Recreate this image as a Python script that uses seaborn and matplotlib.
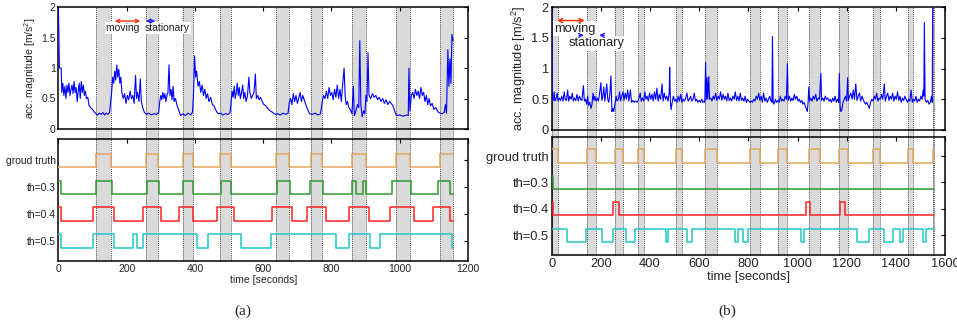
import matplotlib
matplotlib.use('Agg')
import matplotlib.pyplot as plt
import seaborn as sns

# ---------------- data ----------------
# (a) acceleration magnitude trace, time [s] / value [m/s^2]
acc_a_t = [0, 3, 8, 10, 13, 16, 19, 22, 25, 28, 31, 34, 37, 40, 43, 46, 49, 52, 55, 58,
           61, 64, 67, 70, 73, 76, 79, 82, 86, 90, 95, 100, 105, 110, 115, 120, 125, 130, 135, 140,
           145, 150, 153, 156, 159, 162, 165, 168, 171, 174, 177, 180, 183, 186, 190, 194, 198, 202, 206, 210,
           214, 218, 222, 226, 229, 232, 236, 240, 243, 247, 252, 258, 265, 272, 280, 288, 294, 297, 300, 303,
           306, 309, 312, 315, 318, 321, 324, 327, 330, 333, 336, 339, 343, 347, 352, 358, 365, 372, 380, 388,
           393, 396, 399, 402, 405, 409, 413, 417, 421, 425, 429, 433, 437, 441, 446, 451, 456, 462, 468, 475,
           482, 490, 497, 503, 506, 509, 512, 515, 518, 521, 524, 527, 530, 533, 536, 540, 543, 546, 550, 554,
           558, 561, 565, 569, 573, 577, 580, 584, 588, 592, 597, 602, 608, 614, 620, 628, 635, 642, 650, 658,
           666, 673, 676, 680, 684, 688, 692, 696, 700, 704, 708, 712, 716, 720, 725, 730, 736, 744, 752, 760,
           768, 773, 777, 781, 785, 789, 793, 797, 801, 805, 809, 813, 817, 821, 825, 829, 833, 837, 840, 843,
           847, 851, 855, 860, 864, 867, 872, 876, 880, 883, 886, 890, 894, 898, 901, 904, 907, 910, 915, 920,
           925, 930, 935, 940, 945, 950, 955, 960, 965, 970, 975, 980, 985, 990, 1000, 1010, 1020, 1025, 1027, 1030,
           1034, 1038, 1042, 1046, 1050, 1054, 1058, 1062, 1066, 1070, 1074, 1078, 1082, 1086, 1090, 1095, 1100, 1106, 1112, 1118,
           1124, 1130, 1134, 1137, 1141, 1144, 1147, 1150, 1153, 1156]
acc_a_v = [2.0, 1.0, 1.0, 0.6, 0.75, 0.55, 0.7, 0.5, 0.72, 0.6, 0.75, 0.55, 0.65, 0.72, 0.58, 0.78, 0.6, 0.68, 0.45, 0.62,
           0.75, 0.5, 0.78, 0.6, 0.72, 0.55, 0.62, 0.5, 0.52, 0.38, 0.35, 0.32, 0.28, 0.25, 0.23, 0.26, 0.24, 0.27, 0.23, 0.26,
           0.24, 0.27, 0.45, 0.6, 0.85, 0.75, 0.95, 0.8, 1.05, 0.85, 0.98, 0.75, 0.85, 0.6, 0.5, 0.58, 0.42, 0.55, 0.48, 0.62,
           0.5, 0.55, 0.42, 0.88, 0.5, 0.6, 0.45, 0.82, 0.45, 0.35, 0.27, 0.24, 0.26, 0.23, 0.25, 0.24, 0.28, 0.45, 0.55, 0.48,
           0.6, 0.5, 0.58, 0.45, 0.55, 0.6, 1.05, 0.55, 0.65, 0.48, 0.7, 0.45, 0.5, 0.4, 0.32, 0.22, 0.25, 0.22, 0.26, 0.23,
           0.28, 0.6, 1.2, 0.85, 0.95, 0.7, 0.78, 0.6, 0.72, 0.55, 0.65, 0.5, 0.58, 0.45, 0.52, 0.4, 0.38, 0.3, 0.25, 0.26,
           0.23, 0.25, 0.24, 0.27, 0.45, 0.62, 0.52, 0.7, 0.5, 0.6, 0.75, 0.55, 0.68, 0.5, 0.58, 0.72, 0.5, 0.6, 0.45, 0.55,
           0.85, 0.6, 0.5, 0.55, 0.6, 0.9, 0.5, 0.55, 0.48, 0.52, 0.45, 0.4, 0.38, 0.33, 0.3, 0.27, 0.24, 0.25, 0.23, 0.26,
           0.24, 0.26, 0.42, 0.5, 0.4, 0.58, 0.45, 0.55, 0.42, 0.5, 0.6, 0.45, 0.55, 0.48, 0.4, 0.32, 0.25, 0.24, 0.26, 0.23,
           0.25, 0.45, 0.55, 0.5, 0.62, 0.5, 0.68, 0.55, 0.6, 0.48, 0.65, 0.52, 0.72, 0.5, 0.65, 0.45, 0.75, 1.0, 0.55, 0.4,
           0.45, 0.35, 0.32, 0.25, 0.7, 0.22, 0.3, 0.4, 0.35, 1.45, 0.4, 0.2, 0.3, 0.25, 0.55, 0.45, 1.25, 0.55, 0.5, 0.58,
           0.52, 0.55, 0.48, 0.52, 0.45, 0.5, 0.42, 0.48, 0.4, 0.45, 0.42, 0.38, 0.3, 0.22, 0.23, 0.21, 0.23, 0.22, 1.0, 0.3,
           0.55, 0.6, 0.5, 0.65, 0.55, 0.62, 0.5, 0.68, 0.55, 0.6, 0.45, 0.55, 0.4, 0.5, 0.38, 0.42, 0.32, 0.35, 0.28, 0.26,
           0.25, 0.27, 0.4, 0.26, 1.3, 0.7, 1.15, 0.75, 1.55, 1.45]

# (b) acceleration magnitude trace
acc_b_t = [0, 2, 6, 10, 13, 17, 22, 26, 31, 36, 41, 46, 51, 55, 60, 65, 69, 74, 79, 84,
           88, 93, 98, 103, 108, 113, 118, 123, 129, 133, 138, 142, 146, 150, 155, 160, 164, 168, 172, 176,
           180, 185, 190, 195, 200, 204, 208, 212, 216, 220, 224, 228, 232, 236, 241, 245, 249, 253, 257, 262,
           266, 271, 276, 280, 285, 290, 294, 299, 304, 309, 314, 320, 325, 330, 336, 342, 348, 354, 360, 364,
           369, 374, 379, 383, 388, 393, 398, 403, 408, 413, 418, 423, 428, 433, 438, 443, 449, 453, 458, 463,
           468, 473, 478, 480, 483, 486, 490, 495, 500, 505, 510, 515, 520, 525, 530, 535, 540, 545, 550, 555,
           560, 565, 570, 575, 580, 585, 590, 595, 600, 605, 610, 615, 620, 623, 626, 629, 632, 635, 639, 642,
           647, 652, 657, 662, 667, 672, 677, 682, 687, 692, 697, 702, 707, 712, 717, 722, 727, 732, 737, 742,
           747, 752, 757, 762, 767, 772, 777, 782, 787, 792, 797, 802, 807, 812, 817, 822, 827, 832, 837, 842,
           847, 852, 857, 862, 867, 872, 877, 882, 887, 892, 896, 898, 901, 905, 910, 915, 920, 925, 930, 935,
           940, 945, 950, 955, 959, 962, 967, 972, 977, 982, 987, 992, 997, 1002, 1007, 1012, 1017, 1022, 1027, 1032,
           1036, 1040, 1043, 1046, 1049, 1054, 1059, 1064, 1069, 1074, 1079, 1084, 1089, 1095, 1098, 1103, 1108, 1113, 1118, 1123,
           1128, 1133, 1138, 1143, 1148, 1153, 1158, 1163, 1167, 1170, 1173, 1176, 1180, 1185, 1190, 1195, 1200, 1204, 1207, 1212,
           1217, 1222, 1227, 1232, 1237, 1242, 1247, 1252, 1257, 1262, 1267, 1272, 1277, 1282, 1287, 1292, 1297, 1302, 1307, 1312,
           1317, 1322, 1327, 1332, 1337, 1342, 1347, 1353, 1357, 1362, 1367, 1372, 1377, 1382, 1387, 1392, 1397, 1402, 1407, 1412,
           1417, 1422, 1427, 1432, 1437, 1442, 1447, 1452, 1457, 1462, 1467, 1472, 1477, 1482, 1487, 1492, 1497, 1502, 1507, 1511,
           1514, 1516, 1519, 1524, 1530, 1535, 1540, 1545, 1548, 1550]
acc_b_v = [2.0, 0.5, 0.48, 0.62, 0.47, 0.5, 0.6, 0.47, 0.52, 0.48, 0.55, 0.47, 0.62, 0.5, 0.48, 0.65, 0.47, 0.55, 0.5, 0.6,
           0.47, 0.52, 0.48, 0.58, 0.47, 0.55, 0.5, 0.48, 0.72, 0.47, 0.5, 0.42, 0.55, 0.4, 0.45, 0.35, 0.42, 0.6, 0.48, 0.55,
           0.47, 0.52, 0.47, 0.6, 0.77, 0.48, 0.55, 0.7, 0.47, 0.6, 0.75, 0.5, 0.45, 0.55, 0.88, 0.3, 0.35, 0.3, 0.42, 0.55,
           0.47, 0.5, 0.62, 0.47, 0.55, 0.62, 0.48, 0.6, 0.5, 0.65, 0.47, 0.65, 0.45, 0.48, 0.45, 0.47, 0.45, 0.5, 0.6, 0.47,
           0.52, 0.47, 0.62, 0.5, 0.55, 0.47, 0.6, 0.5, 0.58, 0.47, 0.62, 0.5, 0.68, 0.47, 0.58, 0.5, 0.75, 0.47, 0.6, 0.5,
           0.55, 0.47, 0.6, 1.02, 0.45, 0.33, 0.45, 0.55, 0.47, 0.5, 0.45, 0.55, 0.47, 0.58, 0.45, 0.5, 0.47, 0.52, 0.6, 0.47,
           0.5, 0.55, 0.47, 0.5, 0.6, 0.47, 0.5, 0.45, 0.48, 0.45, 0.5, 0.45, 0.47, 0.45, 1.1, 0.5, 0.85, 0.5, 0.87, 0.5,
           0.52, 0.47, 0.55, 0.5, 0.6, 0.48, 0.55, 0.5, 0.62, 0.48, 0.58, 0.5, 0.55, 0.47, 0.6, 0.48, 0.52, 0.47, 0.55, 0.5,
           0.62, 0.48, 0.55, 0.47, 0.6, 0.48, 0.52, 0.47, 0.55, 0.45, 0.5, 0.47, 0.45, 0.47, 0.45, 0.5, 0.47, 0.55, 0.5, 0.6,
           0.48, 0.55, 0.45, 0.6, 0.47, 0.52, 0.45, 0.5, 0.55, 0.47, 0.45, 1.52, 0.45, 0.42, 0.5, 0.45, 0.48, 0.45, 0.55, 0.47,
           0.5, 0.47, 0.55, 0.5, 1.08, 0.48, 0.55, 0.47, 0.52, 0.48, 0.58, 0.5, 0.55, 0.47, 0.5, 0.45, 0.48, 0.42, 0.45, 0.38,
           0.35, 0.3, 0.45, 0.7, 0.47, 0.52, 0.47, 0.55, 0.5, 0.58, 0.47, 0.52, 0.5, 0.92, 0.48, 0.52, 0.47, 0.55, 0.5, 0.52,
           0.47, 0.5, 0.45, 0.52, 0.47, 0.55, 0.45, 0.5, 0.45, 0.92, 0.4, 0.3, 0.32, 0.45, 0.5, 0.55, 0.47, 0.85, 0.48, 0.55,
           0.6, 0.5, 0.65, 0.5, 0.75, 0.48, 0.55, 0.6, 0.47, 0.55, 0.5, 0.45, 0.42, 0.45, 0.4, 0.35, 0.45, 0.5, 0.47, 0.55,
           0.5, 0.6, 0.47, 0.52, 0.5, 0.58, 0.5, 0.75, 0.47, 0.55, 0.6, 0.48, 0.55, 0.5, 0.6, 0.47, 0.55, 0.5, 0.62, 0.48,
           0.55, 0.45, 0.52, 0.48, 0.55, 0.5, 0.45, 0.5, 0.47, 0.65, 0.45, 0.5, 0.47, 0.55, 0.45, 0.5, 0.47, 0.55, 0.5, 0.65,
           0.55, 1.75, 0.5, 0.45, 0.48, 0.42, 0.45, 0.55, 0.45, 2.0]

# stationary intervals [s]: ground truth and detections per threshold
gt_a = [(109, 153), (256, 293), (366, 393), (472, 505), (637, 675), (739, 771), (861, 900), (990, 1029), (1119, 1157)]
th03_a = [(0, 8), (110, 156), (259, 296), (364, 393), (475, 506), (641, 678), (738, 774), (861, 873), (893, 902),
          (976, 1034), (1112, 1148)]
th04_a = [(0, 8), (102, 164), (249, 302), (354, 395), (465, 515), (627, 685), (729, 783), (851, 910), (971, 1042),
          (1098, 1148)]
th05_a = [(0, 8), (100, 163), (220, 230), (249, 405), (437, 534), (623, 813), (850, 914), (942, 1152)]
end_a = 1157

gt_b = [(0, 27), (145, 179), (257, 289), (351, 377), (504, 532), (622, 671), (808, 848), (920, 958), (1046, 1090),
        (1168, 1205), (1308, 1334), (1448, 1468), (1550, 1556)]
th03_b = [(0, 5)]
th04_b = [(0, 5), (250, 274), (1033, 1051), (1174, 1192)]
th05_b = [(0, 64), (138, 206), (248, 304), (337, 463), (474, 552), (571, 745), (758, 780), (800, 1016), (1026, 1241),
          (1291, 1350), (1388, 1418), (1428, 1512), (1524, 1556)]
end_b = 1556

row_labels = ['groud truth', 'th=0.3', 'th=0.4', 'th=0.5']
row_colors = ['#e4a55c', '#2f9a2f', '#ff2222', '#22c8c8']
acc_ticks = [0, 0.5, 1, 1.5, 2]
acc_tick_labels = ['0', '0.5', '1', '1.5', '2']


def step_series(highs, t_end, base):
    """Turn a list of high intervals into a steps-post trace around base"""
    hi, lo = base + 0.25, base - 0.25
    ts, ys = [0.0], [lo]
    for a, b in highs:
        if a == 0:
            ys[0] = hi
        else:
            ts.append(a)
            ys.append(hi)
        if b < t_end:
            ts.append(b)
            ys.append(lo)
    ts.append(t_end)
    ys.append(ys[-1])
    return ts, ys


def shade(ax, bands, gap):
    """Gray stationary bands with dotted edges, running down into the gap"""
    for a, b in bands:
        ax.axvspan(a, b, ymin=-gap, ymax=1, color='#dadada', lw=0, zorder=0, clip_on=False)
        for x in (a, b):
            ax.axvline(x, ymin=-gap, ymax=1, color='#555555', ls=(0, (1, 1)), lw=0.7,
                       zorder=0.5, clip_on=False)


def style_axes(ax, fs):
    for s in ax.spines.values():
        s.set_visible(True)
        s.set_color('black')
        s.set_linewidth(1.1)
    ax.tick_params(direction='in', top=True, right=True, length=3, width=0.8,
                   labelsize=fs, pad=2, colors='black', labelcolor='#222222')


def draw_panel(fig, rect_top, rect_bot, acc_t, acc_v, rows, t_end, xmax, xticks, gaps, fs, lim_bot):
    ax1 = fig.add_axes(rect_top)
    ax2 = fig.add_axes(rect_bot)

    shade(ax1, rows[0], gaps)
    shade(ax2, rows[0], 0)

    sns.lineplot(x=acc_t, y=acc_v, ax=ax1, color='#0000ff', lw=0.8,
                 estimator=None, sort=False, zorder=3)
    ax1.set_xlim(0, xmax)
    ax1.set_ylim(0, 2)
    ax1.set_yticks(acc_ticks)
    ax1.set_yticklabels(acc_tick_labels)
    ax1.set_xticks(xticks)
    ax1.set_xticklabels([])
    ax1.set_xlabel('')
    ax1.set_ylabel('acc. magnitude [m/s$^2$]', fontsize=fs, labelpad=2)
    style_axes(ax1, fs)

    for i, (highs, col) in enumerate(zip(rows, row_colors)):
        base = 4 - i
        ts, ys = step_series(highs, t_end, base)
        sns.lineplot(x=ts, y=ys, ax=ax2, color=col, lw=1.1, drawstyle='steps-post',
                     estimator=None, sort=False, zorder=3)
    ax2.set_xlim(0, xmax)
    ax2.set_ylim(*lim_bot)
    ax2.set_yticks([4, 3, 2, 1])
    ax2.set_yticklabels(row_labels)
    ax2.set_xticks(xticks)
    ax2.set_xticklabels([str(x) for x in xticks])
    ax2.set_xlabel('time [seconds]', fontsize=fs, labelpad=1)
    ax2.set_ylabel('')
    style_axes(ax2, fs)
    return ax1, ax2


def main():
    sns.set_style('white')
    plt.rcParams['font.family'] = ['Liberation Sans', 'DejaVu Sans']
    plt.rcParams['mathtext.fontset'] = 'custom'
    plt.rcParams['mathtext.rm'] = 'Liberation Sans'

    W, H = 957, 325
    fig = plt.figure(figsize=(W / 100, H / 100), dpi=100)

    def rect(x0, x1, y0, y1):
        return [x0 / W, 1 - y1 / H, (x1 - x0) / W, (y1 - y0) / H]

    # (a)
    ax1, ax2 = draw_panel(fig, rect(58.4, 468, 7, 129), rect(58.4, 468, 139, 261),
                          acc_a_t, acc_a_v, [gt_a, th03_a, th04_a, th05_a], end_a,
                          1200, list(range(0, 1201, 200)), 10 / 122, 7.5, (0.25, 4.8))
    ax1.text(140, 1.66, 'moving   ', fontsize=7.5, va='center', ha='left', color='#222222',
             bbox=dict(facecolor='white', edgecolor='none', pad=0.8), zorder=4)
    ax1.text(254, 1.66, 'stationary', fontsize=7.5, va='center', ha='left', color='#222222',
             bbox=dict(facecolor='white', edgecolor='none', pad=0.8), zorder=4)
    ax1.annotate('', xy=(157, 1.77), xytext=(248, 1.77),
                 arrowprops=dict(arrowstyle='<->', color='#ff3010', lw=1.0, mutation_scale=6), zorder=5)
    ax1.annotate('', xy=(248, 1.77), xytext=(292, 1.77),
                 arrowprops=dict(arrowstyle='<->', color='#2020ff', lw=1.0, mutation_scale=6), zorder=5)

    # (b)
    ax3, ax4 = draw_panel(fig, rect(551.7, 945, 7, 130), rect(551.7, 945, 137, 255),
                          acc_b_t, acc_b_v, [gt_b, th03_b, th04_b, th05_b], end_b,
                          1600, list(range(0, 1601, 200)), 7 / 123, 9.3, (0.25, 4.72))
    ax3.text(12, 1.65, 'moving', fontsize=9.3, va='center', ha='left', color='#222222',
             bbox=dict(facecolor='white', edgecolor='none', pad=1.0), zorder=4)
    ax3.annotate('', xy=(10, 1.78), xytext=(146, 1.78),
                 arrowprops=dict(arrowstyle='<->', color='#ff3010', lw=1.1, mutation_scale=7), zorder=5)
    ax3.text(70, 1.41, 'stationary', fontsize=9.3, va='center', ha='left', color='#222222',
             bbox=dict(facecolor='white', edgecolor='none', pad=1.0), zorder=4)
    ax3.annotate('', xy=(143, 1.54), xytext=(100, 1.54),
                 arrowprops=dict(arrowstyle='->', color='#2020ff', lw=1.0, mutation_scale=7), zorder=5)
    ax3.annotate('', xy=(181, 1.54), xytext=(224, 1.54),
                 arrowprops=dict(arrowstyle='->', color='#2020ff', lw=1.0, mutation_scale=7), zorder=5)

    fig.text(243 / W, 1 - 311 / H, '(a)', fontsize=11, family='Liberation Serif', ha='center', va='center')
    fig.text(727 / W, 1 - 311 / H, '(b)', fontsize=11, family='Liberation Serif', ha='center', va='center')

    fig.savefig('out.png', dpi=100)
    plt.close(fig)


if __name__ == '__main__':
    main()
